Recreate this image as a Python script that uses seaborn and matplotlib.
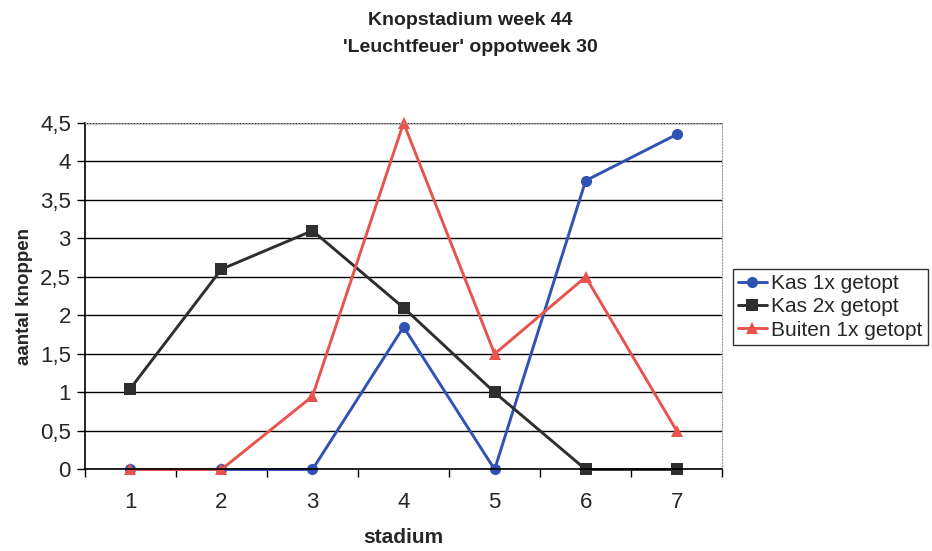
import numpy as np
import pandas as pd
import matplotlib
matplotlib.use("Agg")
import matplotlib.pyplot as plt
import seaborn as sns

# data
stadium = [1, 2, 3, 4, 5, 6, 7]
kas_1x = [0, 0, 0, 1.85, 0, 3.75, 4.35]
kas_2x = [1.05, 2.6, 3.1, 2.1, 1.0, 0, 0]
buiten_1x = [0, 0, 0.95, 4.5, 1.5, 2.5, 0.5]
series_names = ["Kas 1x getopt", "Kas 2x getopt", "Buiten 1x getopt"]

df = pd.DataFrame({
    "stadium": stadium * 3,
    "aantal": kas_1x + kas_2x + buiten_1x,
    "serie": np.repeat(series_names, len(stadium)),
})

sns.set_style("white")
plt.rcParams["font.family"] = ["Liberation Sans", "DejaVu Sans"]

fig = plt.figure(figsize=(9.32, 5.51), dpi=100)
ax = fig.add_axes([0.091, 0.148, 0.684, 0.629])

colors = {"Kas 1x getopt": "#2f52b4", "Kas 2x getopt": "#2e2e2e", "Buiten 1x getopt": "#e8534d"}
markers = {"Kas 1x getopt": "o", "Kas 2x getopt": "s", "Buiten 1x getopt": "^"}

sns.lineplot(data=df, x="stadium", y="aantal", hue="serie", style="serie",
             palette=colors, markers=markers, dashes=False, linewidth=2.1,
             markersize=8, markeredgewidth=0, ax=ax, legend=False)
for line in ax.lines:
    line.set_clip_on(False)

ax.set_xlim(0.5, 7.5)
ax.set_ylim(0, 4.5)
ax.set_xticks(stadium)
ax.set_xticks(np.arange(0.5, 8, 1), minor=True)
ax.set_yticks(np.arange(0, 4.51, 0.5))
ax.set_yticklabels([f"{v:g}".replace(".", ",") for v in np.arange(0, 4.51, 0.5)])
ax.tick_params(axis="x", which="major", length=0, pad=16, labelsize=16)
ax.tick_params(axis="x", which="minor", length=6, width=1, color="black", direction="out", bottom=True)
ax.tick_params(axis="y", length=6, width=1, color="black", direction="out", left=True, labelsize=16, pad=4)
ax.yaxis.grid(True, color="black", linewidth=1)
ax.set_axisbelow(True)

for side in ["left", "bottom"]:
    ax.spines[side].set_color("black")
    ax.spines[side].set_linewidth(1.2)
for side in ["top", "right"]:
    ax.spines[side].set_color("#9a9a9a")
    ax.spines[side].set_linestyle(":")

ax.set_xlabel("stadium", fontsize=15, fontweight="bold", labelpad=11)
ax.set_ylabel("aantal knoppen", fontsize=13.5, fontweight="bold", labelpad=5)

fig.text(0.505, 0.978, "Knopstadium week 44\n'Leuchtfeuer' oppotweek 30",
         ha="center", va="top", fontsize=14, fontweight="bold",
         color="#222222", linespacing=1.75)

handles = [plt.Line2D([], [], color=colors[n], marker=markers[n], lw=2.1,
                      markersize=8, markeredgewidth=0) for n in series_names]
leg = fig.legend(handles, series_names, loc="center left",
                 bbox_to_anchor=(0.786, 0.443), fontsize=15, frameon=True,
                 fancybox=False, edgecolor="black", handlelength=1.4,
                 handletextpad=0.2, borderpad=0.25, labelspacing=0.2,
                 borderaxespad=0)
leg.get_frame().set_linewidth(1)

fig.savefig("out.png", dpi=100)
